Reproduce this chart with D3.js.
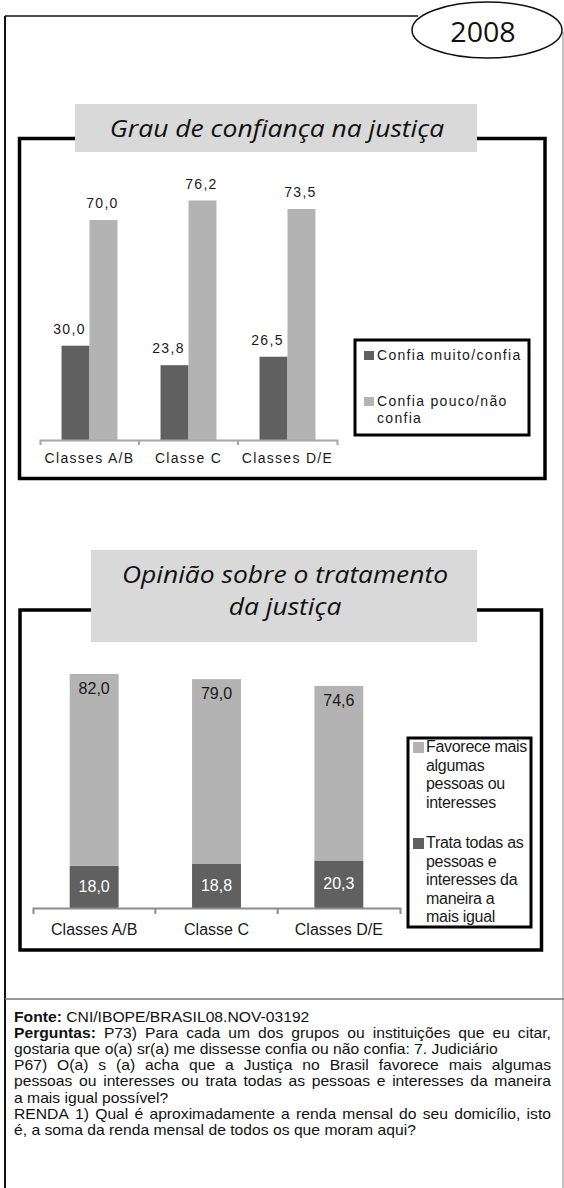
<!DOCTYPE html>
<html>
<head>
<meta charset="utf-8">
<script src="https://d3js.org/d3.v7.min.js"></script>
<style>
  body { margin: 0; background: #ffffff; }
  svg { display: block; }
  .chart1Text { font-family: "Liberation Sans", Arial, sans-serif; font-size: 14px; letter-spacing: 1.3px; fill: #1a1a1a; }
  .chart2Text { font-family: "Liberation Sans", Arial, sans-serif; font-size: 16px; fill: #1a1a1a; }
  .titleText { font-family: "Open Sans", Lato, sans-serif; font-style: italic; font-size: 23px; fill: #111111; }
  .footText { font-family: "Liberation Sans", Arial, sans-serif; font-size: 14px; fill: #111111; }
</style>
</head>
<body>
<script>

// categories and values
var classes = ["Classes A/B", "Classe C", "Classes D/E"];
var confiaMuito = [30.0, 23.8, 26.5];
var confiaPouco = [70.0, 76.2, 73.5];
var legend1 = [["Confia muito/confia"], ["Confia pouco/não", "confia"]];

var trataIgual = [18.0, 18.8, 20.3];
var favorece = [82.0, 79.0, 74.6];
var legend2 = [["Favorece mais", "algumas", "pessoas ou", "interesses"],
               ["Trata todas as", "pessoas e", "interesses da", "maneira a", "mais igual"]];

var title1 = ["Grau de confiança na justiça"];
var title2 = ["Opinião sobre o tratamento", "da justiça"];
var yearLabel = "2008";

// footer lines: [bold part, normal part, justify]
var footLines = [
  ["Fonte:", " CNI/IBOPE/BRASIL08.NOV-03192", false],
  ["Perguntas:", " P73) Para cada um dos grupos ou instituições que eu citar,", true],
  ["", "gostaria que o(a) sr(a) me dissesse confia ou não confia: 7. Judiciário", false],
  ["", "P67) O(a) s (a) acha que a Justiça no Brasil favorece mais algumas", true],
  ["", "pessoas ou interesses ou trata todas as pessoas e interesses da maneira", true],
  ["", "a mais igual possível?", false],
  ["", "RENDA 1) Qual é aproximadamente a renda mensal do seu domicílio, isto", true],
  ["", "é, a soma da renda mensal de todos os que moram aqui?", false]
];

var darkGrey = "#606060";
var lightGrey = "#b3b3b3";
var boxGrey = "#d9d9d9";

// the original text is a little stretched sideways
var titleStretch = 1.15;
var footStretch = 1.12;

// decimal comma
var ptBR = d3.formatLocale({decimal: ",", thousands: ".", grouping: [3], currency: ["R$", ""]});
var fmt = ptBR.format(".1f");

window.onload = function() {

  var w = 564;
  var h = 1188;

  var svg = d3.select("body")
    .append("svg")
    .attr("width", w)
    .attr("height", h);

  drawFrame(svg);
  drawChart1(svg);
  drawChart2(svg);
  drawFooter(svg);
};

// outer page lines and the year bubble
function drawFrame(svg) {

  svg.append("line")
    .attr("x1", 5).attr("y1", 16).attr("x2", 5).attr("y2", 1188)
    .attr("stroke", "#111").attr("stroke-width", 2);

  svg.append("line")
    .attr("x1", 5).attr("y1", 16).attr("x2", 418).attr("y2", 16)
    .attr("stroke", "#111").attr("stroke-width", 1.3);

  svg.append("line")
    .attr("x1", 563).attr("y1", 32).attr("x2", 563).attr("y2", 1188)
    .attr("stroke", "#888").attr("stroke-width", 1);

  // separator above the footer
  svg.append("line")
    .attr("x1", 5).attr("y1", 999).attr("x2", 564).attr("y2", 999)
    .attr("stroke", "#777").attr("stroke-width", 1.5);

  svg.append("ellipse")
    .attr("cx", 487).attr("cy", 30).attr("rx", 75).attr("ry", 28)
    .attr("fill", "#fff").attr("stroke", "#111").attr("stroke-width", 1.5);

  svg.append("text")
    .attr("transform", "translate(483,42) scale(1.06,1)")
    .style("text-anchor", "middle")
    .style("font-family", "'Open Sans', Lato, sans-serif")
    .style("font-size", "27px")
    .style("fill", "#111")
    .text(yearLabel);
}

// grouped bars: confidence in justice
function drawChart1(svg) {

  // frame and title box
  svg.append("rect")
    .attr("x", 19.5).attr("y", 138.5).attr("width", 525.5).attr("height", 340)
    .attr("fill", "none").attr("stroke", "#000").attr("stroke-width", 3.5);

  svg.append("rect")
    .attr("x", 75).attr("y", 104).attr("width", 402).attr("height", 48)
    .attr("fill", boxGrey);

  svg.selectAll(".title1")
    .data(title1)
    .enter()
    .append("text")
    .attr("class", "titleText title1")
    .attr("transform", "translate(277,137) scale(" + titleStretch + ",1)")
    .style("text-anchor", "middle")
    .text(function(d) { return d; });

  var baseY = 440;

  var x = d3.scaleBand()
    .domain(classes)
    .range([40, 337])
    .padding(0);

  var xSub = d3.scaleBand()
    .domain([0, 1])
    .range([0, x.bandwidth()])
    .paddingInner(0)
    .paddingOuter(0.77);

  var y = d3.scaleLinear()
    .domain([0, 100])
    .range([baseY, baseY - 314.3]);

  var rows = classes.map(function(c, i) {
    return {cls: c, vals: [confiaMuito[i], confiaPouco[i]]};
  });

  var colors = [darkGrey, lightGrey];

  var groups = svg.selectAll(".group1")
    .data(rows)
    .enter()
    .append("g")
    .attr("class", "group1")
    .attr("transform", function(d) { return "translate(" + x(d.cls) + ",0)"; });

  groups.selectAll("rect")
    .data(function(d) { return d.vals; })
    .enter()
    .append("rect")
    .attr("x", function(d, i) { return xSub(i); })
    .attr("y", function(d) { return y(d); })
    .attr("width", xSub.bandwidth())
    .attr("height", function(d) { return baseY - y(d); })
    .attr("fill", function(d, i) { return colors[i]; });

  // value labels above the bars (dark ones sit a little to the left)
  groups.selectAll("text")
    .data(function(d) { return d.vals; })
    .enter()
    .append("text")
    .attr("class", "chart1Text")
    .attr("x", function(d, i) { return xSub(i) + xSub.bandwidth() / 2 - (i == 0 ? 6 : 1); })
    .attr("y", function(d) { return y(d) - 12; })
    .style("text-anchor", "middle")
    .text(function(d) { return fmt(d); });

  // x axis with ticks on the band edges
  var axis = svg.append("g")
    .attr("transform", "translate(0," + baseY + ")")
    .call(d3.axisBottom(x).tickSize(0).tickSizeOuter(5).tickPadding(13));

  axis.select(".domain").attr("stroke", "#a6a6a6").attr("stroke-width", 2);
  axis.selectAll("text")
    .attr("class", "chart1Text")
    .attr("font-family", null).attr("font-size", null).attr("fill", null);

  axis.selectAll(".edgeTick")
    .data(classes.slice(1))
    .enter()
    .append("line")
    .attr("class", "edgeTick")
    .attr("x1", function(d) { return x(d); })
    .attr("x2", function(d) { return x(d); })
    .attr("y1", 0).attr("y2", 5)
    .attr("stroke", "#a6a6a6").attr("stroke-width", 2);

  // legend
  svg.append("rect")
    .attr("x", 355).attr("y", 340).attr("width", 174).attr("height", 95)
    .attr("fill", "#fff").attr("stroke", "#000").attr("stroke-width", 3);

  var legY = [360, 406];
  var leg = svg.selectAll(".leg1")
    .data(legend1)
    .enter()
    .append("g")
    .attr("class", "leg1");

  leg.append("rect")
    .attr("x", 364)
    .attr("y", function(d, i) { return legY[i] - 9; })
    .attr("width", 10).attr("height", 9)
    .attr("fill", function(d, i) { return colors[i]; });

  leg.append("text")
    .attr("class", "chart1Text")
    .attr("y", function(d, i) { return legY[i]; })
    .selectAll("tspan")
    .data(function(d) { return d; })
    .enter()
    .append("tspan")
    .attr("x", 377)
    .attr("dy", function(d, i) { return i == 0 ? 0 : 17; })
    .text(function(d) { return d; });
}

// stacked bars: opinion on treatment
function drawChart2(svg) {

  svg.append("rect")
    .attr("x", 20).attr("y", 610).attr("width", 521.5).attr("height", 340)
    .attr("fill", "none").attr("stroke", "#000").attr("stroke-width", 3.5);

  svg.append("rect")
    .attr("x", 91).attr("y", 550).attr("width", 386).attr("height", 92)
    .attr("fill", boxGrey);

  svg.selectAll(".title2")
    .data(title2)
    .enter()
    .append("text")
    .attr("class", "titleText title2")
    .attr("transform", function(d, i) {
      return "translate(285," + (583 + i * 32) + ") scale(" + titleStretch + ",1)";
    })
    .style("text-anchor", "middle")
    .text(function(d) { return d; });

  var baseY = 908;

  var x = d3.scaleBand()
    .domain(classes)
    .range([33, 400])
    .paddingInner(0.6)
    .paddingOuter(0.3);

  var y = d3.scaleLinear()
    .domain([0, 100])
    .range([baseY, baseY - 234]);

  var rows = classes.map(function(c, i) {
    return {cls: c, trata: trataIgual[i], favorece: favorece[i]};
  });

  var stack = d3.stack().keys(["trata", "favorece"])(rows);
  var colors = [darkGrey, lightGrey];

  var layers = svg.selectAll(".layer2")
    .data(stack)
    .enter()
    .append("g")
    .attr("class", "layer2")
    .attr("fill", function(d, i) { return colors[i]; });

  layers.selectAll("rect")
    .data(function(d) { return d; })
    .enter()
    .append("rect")
    .attr("x", function(d) { return x(d.data.cls); })
    .attr("y", function(d) { return y(d[1]); })
    .attr("width", x.bandwidth())
    .attr("height", function(d) { return y(d[0]) - y(d[1]); });

  // labels: white in the middle of the dark part, dark near the top of the light part
  svg.selectAll(".lab2dark")
    .data(stack[0])
    .enter()
    .append("text")
    .attr("class", "chart2Text lab2dark")
    .attr("x", function(d) { return x(d.data.cls) + x.bandwidth() / 2; })
    .attr("y", function(d) { return (y(d[0]) + y(d[1])) / 2 + 5; })
    .style("text-anchor", "middle")
    .style("fill", "#ffffff")
    .text(function(d) { return fmt(d[1] - d[0]); });

  svg.selectAll(".lab2light")
    .data(stack[1])
    .enter()
    .append("text")
    .attr("class", "chart2Text lab2light")
    .attr("x", function(d) { return x(d.data.cls) + x.bandwidth() / 2; })
    .attr("y", function(d) { return y(d[1]) + 20; })
    .style("text-anchor", "middle")
    .text(function(d) { return fmt(d[1] - d[0]); });

  // x axis
  var axis = svg.append("g")
    .attr("transform", "translate(0," + baseY + ")")
    .call(d3.axisBottom(x).tickSize(0).tickSizeOuter(6).tickPadding(16));

  axis.select(".domain").attr("stroke", "#8c8c8c").attr("stroke-width", 2);
  axis.selectAll("text")
    .attr("class", "chart2Text")
    .attr("font-family", null).attr("font-size", null).attr("fill", null);

  axis.selectAll(".edgeTick")
    .data(classes.slice(1))
    .enter()
    .append("line")
    .attr("class", "edgeTick")
    .attr("x1", function(d) { return x(d) - x.step() * x.paddingInner() / 2; })
    .attr("x2", function(d) { return x(d) - x.step() * x.paddingInner() / 2; })
    .attr("y1", 0).attr("y2", 6)
    .attr("stroke", "#8c8c8c").attr("stroke-width", 2);

  // legend (order as in the picture: light first)
  var legOrder = [1, 0];
  var legY = [752, 848];

  var leg = svg.selectAll(".leg2")
    .data(legend2)
    .enter()
    .append("g")
    .attr("class", "leg2");

  leg.append("rect")
    .attr("x", 413)
    .attr("y", function(d, i) { return legY[i] - 10; })
    .attr("width", 11).attr("height", 11)
    .attr("fill", function(d, i) { return colors[legOrder[i]]; });

  leg.append("text")
    .attr("class", "chart2Text")
    .style("letter-spacing", "-0.3px")
    .attr("y", function(d, i) { return legY[i]; })
    .selectAll("tspan")
    .data(function(d) { return d; })
    .enter()
    .append("tspan")
    .attr("x", 426)
    .attr("dy", function(d, i) { return i == 0 ? 0 : 18.5; })
    .text(function(d) { return d; });

  svg.append("rect")
    .attr("x", 408).attr("y", 738).attr("width", 123).attr("height", 189)
    .attr("fill", "none").attr("stroke", "#000").attr("stroke-width", 3);
}

// source and questions, some lines justified
function drawFooter(svg) {

  var left = 14;
  var right = 551;
  var top = 1022;
  var lineH = 16.1;

  // width available in unstretched units
  var avail = (right - left) / footStretch;

  footLines.forEach(function(line, li) {

    var words = [];
    if (line[0] != "") words.push({t: line[0], b: true});
    line[1].trim().split(" ").forEach(function(t) { words.push({t: t, b: false}); });

    var text = svg.append("text")
      .attr("class", "footText")
      .attr("transform", "translate(" + left + "," + (top + li * lineH) + ") scale(" + footStretch + ",1)");

    var spans = text.selectAll("tspan")
      .data(words)
      .enter()
      .append("tspan")
      .style("font-weight", function(d) { return d.b ? "bold" : "normal"; })
      .text(function(d) { return d.t; });

    // measure words
    var widths = [];
    spans.each(function() { widths.push(this.getComputedTextLength()); });
    var total = d3.sum(widths);

    var gap;
    if (line[2] && words.length > 1) {
      gap = (avail - total) / (words.length - 1);
    } else {
      gap = 3.9;
    }

    var pos = 0;
    spans.attr("x", function(d, i) {
      var p = pos;
      pos += widths[i] + gap;
      return p;
    });
  });
}
</script>
</body>
</html>
